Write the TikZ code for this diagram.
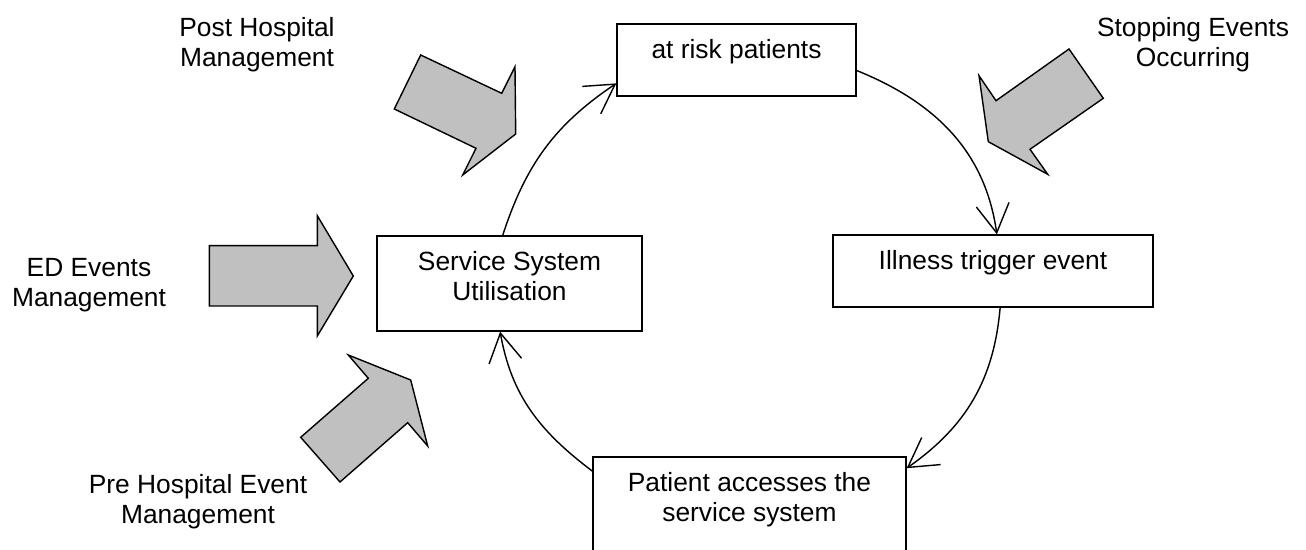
\documentclass[tikz,border=0pt]{standalone}
\usepackage{fontspec}
\setmainfont{Liberation Sans}
\usetikzlibrary{arrows.meta}
\definecolor{arrowgray}{RGB}{192,192,192}

\begin{document}
\begin{tikzpicture}[x=0.02cm,y=-0.02cm,
	font=\fontsize{15}{17.1}\selectfont,
	stage/.style = {rectangle,draw,line width=0.8pt,inner sep=0pt},
	stage text/.style = {anchor=north,yshift=-0.32cm,align=center,inner sep=0pt},
	flow/.style = {line width=0.8pt,-{Straight Barb[length=0.57cm,width=0.66cm]}},
	push/.style = {draw,fill=arrowgray,line width=0.8pt,line join=miter},
	caption/.style = {align=center,inner sep=0pt}]

	\useasboundingbox (0,0) rectangle (1306,550);

	% the four stages of the cycle
	\node[stage,minimum width=4.78cm,minimum height=1.44cm,
		label={[stage text]north:at risk patients}] (risk) at (736.5,60) {};
	\node[stage,minimum width=6.4cm,minimum height=1.44cm,
		label={[stage text]north:Illness trigger event}] (illness) at (993,271) {};
	\node[stage,minimum width=6.26cm,minimum height=1.9cm,
		label={[stage text]north:Patient accesses the\\service system}] (patient) at (749.5,504.5) {};
	\node[stage,minimum width=5.3cm,minimum height=1.9cm,
		label={[stage text]north:Service System\\Utilisation}] (service) at (509.5,283.5) {};

	\draw[flow] (service.98) to[out=72,in=214] (risk.191);
	\draw[flow] (risk.-5) to[out=-22,in=98] (illness.84);
	\draw[flow] (illness.-79) to[out=-95,in=35] (patient.13);
	\draw[flow] (patient.168) to[out=143,in=-80] (service.259);

	% outside influences
	\node[caption] (post) at (257,45) {Post Hospital\\Management};
	\node[caption] (stop) at (1193,44.5) {Stopping Events\\Occurring};
	\node[caption] (ed) at (89,285) {ED Events\\Management};
	\node[caption] (pre) at (198,501.5) {Pre Hospital Event\\Management};

	\draw[push] (420.7,55) -- (501.7,93.3) -- (515,66.7) -- (515.7,134)
		-- (462.7,175) -- (476,148.3) -- (394.3,109) -- cycle;
	\draw[push] (1069,49) -- (1103.3,98.3) -- (1030,149.3) -- (1047.7,174.3)
		-- (988.3,141.7) -- (979,75.7) -- (996,100.7) -- cycle;
	\draw[push] (209.3,245.7) -- (317.3,245.7) -- (317.3,215.7) -- (353.3,276)
		-- (317.3,336) -- (317.3,306) -- (209.3,306) -- cycle;
	\draw[push] (348.3,355) -- (368.3,378.3) -- (300.7,437.3) -- (340,482)
		-- (407.7,422.7) -- (427.7,446) -- (410.7,380) -- cycle;
\end{tikzpicture}
\end{document}
